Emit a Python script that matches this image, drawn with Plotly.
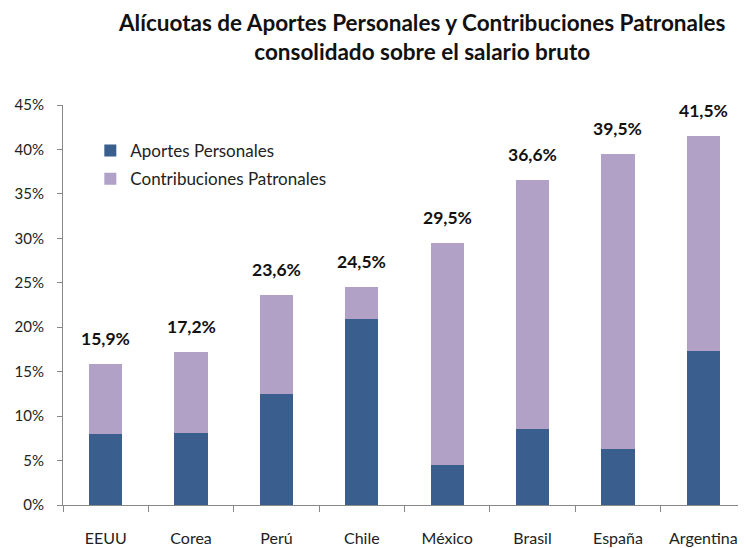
import plotly.graph_objects as go

categories = ["EEUU", "Corea", "Perú", "Chile", "México", "Brasil", "España", "Argentina"]
aportes = [8.0, 8.1, 12.5, 20.9, 4.5, 8.5, 6.3, 17.3]
totales = [15.9, 17.2, 23.6, 24.5, 29.5, 36.6, 39.5, 41.5]
contribuciones = [round(t - a, 1) for t, a in zip(totales, aportes)]
y_ticks = [0, 5, 10, 15, 20, 25, 30, 35, 40, 45]
y_tick_labels = [f"{v}%" for v in y_ticks]

FONT = "Lato"

fig = go.Figure()
fig.add_trace(go.Bar(x=categories, y=aportes, name="Aportes Personales", legendgroup="a",
                     marker=dict(color="#3A5F8F", line=dict(width=0))))
fig.add_trace(go.Bar(x=categories, y=contribuciones, name="Contribuciones Patronales", legendgroup="b",
                     marker=dict(color="#B2A1C7", line=dict(width=0))))

for c, t in zip(categories, totales):
    fig.add_annotation(x=c, y=t, text="<b>" + f"{t:.1f}".replace(".", ",") + "%</b>",
                       showarrow=False, yanchor="bottom", yshift=13,
                       font=dict(family=FONT, size=17.5, color="#111"))

fig.add_annotation(
    text="<b>Alícuotas de Aportes Personales y Contribuciones Patronales<br>consolidado sobre el salario bruto</b>",
    xref="paper", yref="paper", x=0.526, y=1.17, xanchor="center", yanchor="middle",
    showarrow=False, font=dict(family=FONT, size=22.5, color="#111"))

fig.update_layout(
    barmode="stack",
    bargap=0.61,
    width=746, height=548,
    margin=dict(l=55, r=8, t=97, b=51),
    paper_bgcolor="white", plot_bgcolor="white",
    font=dict(family=FONT, size=14, color="#222"),
    showlegend=True,
    legend=dict(x=0.04, y=0.93, xanchor="left", yanchor="top",
                font=dict(family=FONT, size=17, color="#222"),
                bgcolor="rgba(0,0,0,0)", tracegroupgap=3, traceorder="grouped"),
    xaxis=dict(showline=True, linecolor="#888", linewidth=1, ticks="outside",
               tickson="boundaries", ticklen=6, tickcolor="#888", ticklabelstandoff=19,
               tickfont=dict(family=FONT, size=16, color="#222"), showgrid=False),
    yaxis=dict(range=[0, 45], tickmode="array", tickvals=y_ticks, ticktext=y_tick_labels,
               showline=True, linecolor="#888", linewidth=1, ticks="outside", ticklen=5,
               tickcolor="#888", ticklabelstandoff=10,
               showgrid=False, zeroline=False,
               tickfont=dict(family=FONT, size=15, color="#222")),
)

fig.write_html("out.html")
